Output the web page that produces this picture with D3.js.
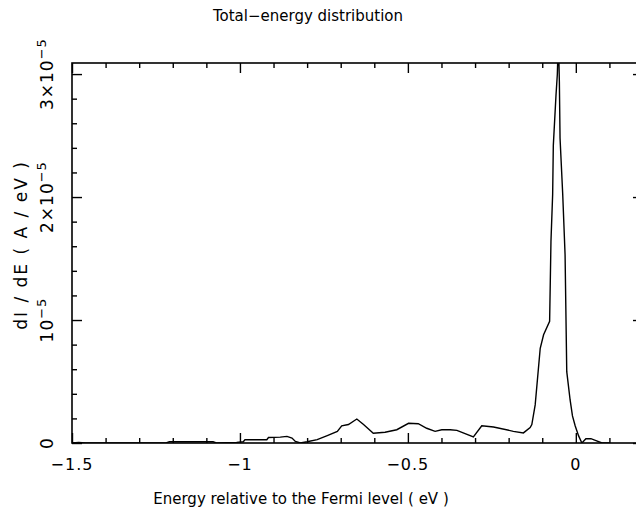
<!DOCTYPE html>
<html>
<head>
<meta charset="utf-8">
<script src="https://cdn.jsdelivr.net/npm/d3@7"></script>
<style>
    body { margin: 0; background: #fff; }
    svg { display: block; }
    text { font-family: "DejaVu Sans", sans-serif; fill: #000; }
</style>
</head>
<body>
<svg id="chart" width="636" height="518"></svg>
<script>
"use strict";
// energy relative to Fermi level (eV)
const energy = [
    -1.50, -1.48, -1.46, -1.40, -1.30, -1.22, -1.21, -1.15, -1.08, -1.07,
    -1.01, -0.99, -0.985, -0.92, -0.915, -0.88, -0.86, -0.845, -0.835, -0.82,
    -0.80, -0.77, -0.74, -0.71, -0.697, -0.677, -0.652, -0.632, -0.603, -0.568,
    -0.533, -0.498, -0.469, -0.444, -0.419, -0.399, -0.374, -0.354, -0.305, -0.280,
    -0.245, -0.186, -0.156, -0.136, -0.131, -0.121, -0.106, -0.096, -0.078, -0.074,
    -0.069, -0.067, -0.059, -0.055, -0.052, -0.049, -0.047, -0.039, -0.032, -0.027,
    -0.017, -0.010, -0.002, 0.008, 0.018, 0.030, 0.045, 0.060, 0.078, 0.10
];
// dI/dE in units of 1e-6 A/eV
const dIdE = [
    0, 0.05, 0, 0, 0, 0, 0.1, 0.1, 0.1, 0,
    0.05, 0.1, 0.27, 0.27, 0.45, 0.48, 0.54, 0.4, 0.13, 0,
    0.1, 0.27, 0.6, 0.95, 1.4, 1.5, 1.95, 1.5, 0.8, 0.87,
    1.08, 1.6, 1.57, 1.2, 0.95, 1.08, 1.08, 1.03, 0.5, 1.4,
    1.3, 0.95, 0.82, 1.25, 1.5, 3.1, 7.7, 8.8, 9.9, 16.4,
    20.2, 24.2, 28.3, 30.0, 33.0, 29.4, 24.8, 20.2, 15.3, 5.8,
    3.5, 2.2, 1.4, 0.6, 0, 0.35, 0.35, 0.2, 0, 0
];
const xMajor = [-1.5, -1, -0.5, 0];
const xMinor = [-1.4, -1.3, -1.2, -1.1, -0.9, -0.8, -0.7, -0.6, -0.4, -0.3, -0.2, -0.1, 0.1];
const yMajor = [0, 1e-5, 2e-5, 3e-5];
const yLabels = [["0", ""], ["10", "\u22125"], ["2\u00d710", "\u22125"], ["3\u00d710", "\u22125"]];
const yMinor = [2e-6, 4e-6, 6e-6, 8e-6, 12e-6, 14e-6, 16e-6, 18e-6, 22e-6, 24e-6, 26e-6, 28e-6];

const plot = {left: 72, right: 643, top: 63, bottom: 443};

const x = d3.scaleLinear().domain([-1.5, 0.2]).range([plot.left, plot.right]);
const y = d3.scaleLinear().domain([0, 3.09e-5]).range([plot.bottom, plot.top]);

const svg = d3.select("#chart");

svg.append("defs").append("clipPath").attr("id", "clip")
    .append("rect")
    .attr("x", plot.left).attr("y", plot.top)
    .attr("width", plot.right - plot.left).attr("height", plot.bottom - plot.top);

// ticks: minor then major, all pointing inward
function ticks(axisFn, scale, values, size, pos) {
    let g = svg.append("g")
        .attr("transform", pos)
        .call(axisFn(scale).tickValues(values).tickSize(size).tickFormat(""));
    g.select(".domain").remove();
    g.selectAll("line").attr("stroke", "#000").attr("stroke-width", 1.4);
    return g;
}
ticks(d3.axisBottom, x, xMinor, -5, `translate(0,${plot.bottom})`);
ticks(d3.axisBottom, x, xMajor, -10, `translate(0,${plot.bottom})`);
ticks(d3.axisTop, x, xMinor, -5, `translate(0,${plot.top})`);
ticks(d3.axisTop, x, xMajor, -10, `translate(0,${plot.top})`);
ticks(d3.axisLeft, y, yMinor, -5, `translate(${plot.left},0)`);
ticks(d3.axisLeft, y, yMajor, -10, `translate(${plot.left},0)`);
ticks(d3.axisRight, y, yMinor, -5, `translate(${plot.right},0)`);
ticks(d3.axisRight, y, yMajor, -10, `translate(${plot.right},0)`);

svg.append("rect")
    .attr("x", plot.left).attr("y", plot.top)
    .attr("width", plot.right - plot.left).attr("height", plot.bottom - plot.top)
    .attr("fill", "none").attr("stroke", "#000").attr("stroke-width", 1.6);

// curve
const pts = energy.map((e, i) => [e, dIdE[i] * 1e-6]);
svg.append("path")
    .datum(pts)
    .attr("clip-path", "url(#clip)")
    .attr("fill", "none")
    .attr("stroke", "#000")
    .attr("stroke-width", 1.4)
    .attr("d", d3.line().x(d => x(d[0])).y(d => y(d[1])));

// x tick labels
svg.append("g").selectAll("text")
    .data(xMajor).enter().append("text")
    .attr("x", d => x(d))
    .attr("y", 470)
    .attr("text-anchor", "middle")
    .style("font-size", "16px")
    .style("letter-spacing", "1px")
    .text(d => d3.format("")(d));

// y tick labels, rotated with superscript exponent
let yl = svg.append("g").selectAll("text")
    .data(yMajor).enter().append("text")
    .attr("transform", d => `translate(53,${y(d)}) rotate(-90)`)
    .attr("text-anchor", "middle")
    .style("font-size", "17px")
    .style("letter-spacing", "1px");
yl.append("tspan").text((d, i) => yLabels[i][0]);
yl.append("tspan").attr("dy", -7).style("font-size", "13px").text((d, i) => yLabels[i][1]);

// titles
svg.append("text")
    .attr("x", 308).attr("y", 21)
    .attr("text-anchor", "middle")
    .style("font-size", "15px")
    .text("Total\u2212energy distribution");

svg.append("text")
    .attr("x", 301).attr("y", 504)
    .attr("text-anchor", "middle")
    .style("font-size", "15px")
    .text("Energy relative to the Fermi level ( eV )");

svg.append("text")
    .attr("transform", `translate(27,245) rotate(-90)`)
    .attr("text-anchor", "middle")
    .style("font-size", "17px")
    .style("letter-spacing", "2px")
    .text("dI / dE ( A / eV )");
</script>
</body>
</html>
